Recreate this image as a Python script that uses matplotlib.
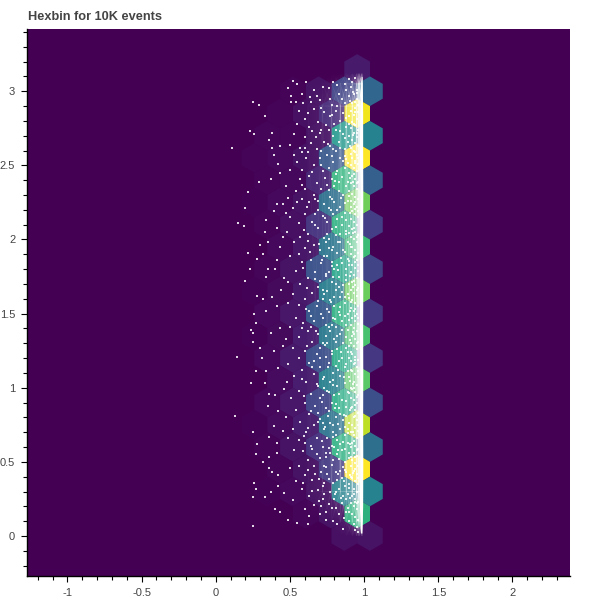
#!/usr/bin/env python3
# hexbin de 10K eventos: hexagonos viridis + puntos blancos encima
import matplotlib
matplotlib.use("Agg")
import matplotlib.pyplot as plt
import numpy as np
from matplotlib.collections import PolyCollection
from matplotlib.colors import LinearSegmentedColormap
from matplotlib.ticker import FixedLocator, FixedFormatter

HEX_SIZE = 0.1

# centros de hexagonos y cuentas (por fila)
hex_y = [3.15,
         3.0, 3.0, 3.0, 3.0,
         2.85, 2.85, 2.85, 2.85,
         2.7, 2.7, 2.7, 2.7, 2.7,
         2.55, 2.55, 2.55, 2.55, 2.55,
         2.4, 2.4, 2.4, 2.4, 2.4,
         2.25, 2.25, 2.25, 2.25, 2.25,
         2.1, 2.1, 2.1, 2.1, 2.1,
         1.95, 1.95, 1.95, 1.95,
         1.8, 1.8, 1.8, 1.8, 1.8,
         1.65, 1.65, 1.65, 1.65, 1.65,
         1.5, 1.5, 1.5, 1.5, 1.5,
         1.35, 1.35, 1.35, 1.35, 1.35,
         1.2, 1.2, 1.2, 1.2, 1.2,
         1.05, 1.05, 1.05, 1.05,
         0.9, 0.9, 0.9, 0.9, 0.9,
         0.75, 0.75, 0.75, 0.75, 0.75,
         0.6, 0.6, 0.6, 0.6, 0.6,
         0.45, 0.45, 0.45, 0.45,
         0.3, 0.3, 0.3, 0.3, 0.3,
         0.15, 0.15, 0.15,
         0.0, 0.0]
hex_x = [0.953,
         1.039, 0.866, 0.693, 0.52,
         0.953, 0.779, 0.606, 0.433,
         1.039, 0.866, 0.693, 0.52, 0.346,
         0.953, 0.779, 0.606, 0.433, 0.26,
         1.039, 0.866, 0.693, 0.52, 0.346,
         0.953, 0.779, 0.606, 0.433, 0.26,
         1.039, 0.866, 0.693, 0.52, 0.346,
         0.953, 0.779, 0.606, 0.433,
         1.039, 0.866, 0.693, 0.52, 0.346,
         0.953, 0.779, 0.606, 0.433, 0.26,
         1.039, 0.866, 0.693, 0.52, 0.346,
         0.953, 0.779, 0.606, 0.433, 0.26,
         1.039, 0.866, 0.693, 0.52, 0.346,
         0.953, 0.779, 0.606, 0.433,
         1.039, 0.866, 0.693, 0.52, 0.346,
         0.953, 0.779, 0.606, 0.433, 0.26,
         1.039, 0.866, 0.693, 0.52, 0.346,
         0.953, 0.779, 0.606, 0.433,
         1.039, 0.866, 0.693, 0.52, 0.346,
         0.953, 0.779, 0.606,
         1.039, 0.866]
hex_counts = [49,
              231, 140, 35, 7,
              686, 84, 28, 7,
              308, 371, 35, 10, 10,
              700, 189, 35, 14, 7,
              210, 455, 70, 14, 7,
              546, 252, 35, 14, 4,
              126, 441, 105, 28, 7,
              476, 273, 42, 14,
              140, 406, 175, 35, 10,
              539, 294, 49, 17, 4,
              119, 441, 189, 42, 14,
              497, 280, 56, 17, 4,
              112, 420, 168, 49, 14,
              518, 301, 56, 21,
              168, 427, 140, 42, 14,
              630, 266, 56, 21, 4,
              252, 441, 98, 35, 7,
              700, 119, 35, 10,
              308, 308, 35, 14, 4,
              448, 35, 10,
              35, 28]
hex_max = 700

# puntos sueltos a la izquierda
sparse_pts = [(0.25,2.93),(0.29,2.91),(0.33,2.83),(0.23,2.73),(0.26,2.71),(0.38,2.72),(0.36,2.67),(0.11,2.62),(0.38,2.62),(0.43,2.63),(0.5,2.64),(0.53,2.71),
    (0.49,3.02),(0.51,2.97),(0.51,2.93),(0.54,2.93),(0.29,2.39),(0.22,2.32),(0.2,2.21),(0.15,2.11),(0.19,2.09),(0.34,2.13),(0.33,2.05),(0.35,1.98),(0.3,1.96),
    (0.22,1.91),(0.28,1.87),(0.43,1.95),(0.32,1.9),(0.23,1.8),(0.35,1.8),(0.4,1.8),(0.2,1.72),(0.34,1.75),(0.28,1.62),(0.32,1.6),(0.26,1.5),(0.27,1.44),(0.34,1.52),
    (0.37,2.41),(0.42,2.51),(0.39,2.57),(0.43,2.45),(0.47,2.36),(0.41,2.24),(0.45,2.24),(0.39,2.19),(0.47,2.18),(0.41,2.08),(0.14,1.21),(0.25,1.37),(0.24,1.39),
    (0.25,1.31),(0.3,1.27),(0.31,1.2),(0.27,1.11),(0.24,1.03),(0.33,1.03),(0.13,0.81),(0.25,0.7),(0.28,0.62),(0.27,0.55),(0.26,0.36),(0.27,0.32),(0.25,0.26),
    (0.36,0.53),(0.32,0.5),(0.38,0.43),(0.42,0.41),(0.37,0.3),(0.43,0.16),(0.25,0.07),(0.42,0.34),(0.46,0.29),(0.4,0.18),(0.49,0.11),(0.55,0.09),(0.33,0.26),(0.36,0.46),(0.41,0.56),(0.36,0.96),(0.4,0.95),(0.35,0.88),(0.42,0.84),(0.46,0.99),(0.39,0.74),(0.36,0.67),(0.41,0.63),(0.45,0.71),(0.34,1.11),(0.42,1.13),(0.39,1.25),(0.45,1.28),(0.37,1.37),(0.43,1.4),(0.41,1.55),(0.38,1.61),(0.44,1.66),(0.46,1.74),(0.41,1.86),(0.45,2.02)]

# zona intermedia
mid_pts = [(0.52,3.07),(0.58,2.98),(0.61,3.06),(0.66,3.01),(0.7,2.94),(0.56,2.87),(0.6,2.81),(0.66,2.88),(0.69,2.79),(0.63,2.76),(0.55,2.78),(0.72,3.03),(0.73,2.86),
    (0.64,2.93),(0.55,3.05),(0.62,2.85),(0.7,2.72),(0.6,2.69),(0.57,2.62),(0.64,2.65),(0.68,2.61),(0.73,2.66),(0.53,2.57),(0.61,2.55),(0.66,2.5),(0.58,2.47),(0.7,2.55),
    (0.55,2.52),(0.63,2.43),(0.68,2.38),(0.72,2.46),(0.57,2.41),(0.5,2.47),(0.6,2.34),(0.66,2.3),(0.71,2.34),(0.54,2.33),(0.49,2.28),(0.63,2.25),(0.58,2.27),(0.69,2.2),
    (0.52,2.21),(0.6,2.17),(0.65,2.12),(0.72,2.16),(0.56,2.11),(0.5,2.15),(0.69,2.08),(0.62,2.04),(0.57,2.02),(0.73,2.01),(0.66,1.96),(0.53,1.98),(0.48,2.05),(0.6,1.94),
    (0.7,1.93),(0.56,1.9),(0.64,1.86),(0.5,1.89),(0.71,1.84),(0.59,1.81),(0.67,1.78),(0.54,1.79),(0.74,1.77),(0.62,1.74),(0.49,1.71),(0.57,1.7),(0.69,1.68),(0.65,1.64),
    (0.52,1.63),(0.6,1.6),(0.72,1.6),(0.56,1.56),(0.68,1.55),(0.49,1.57),(0.63,1.52),(0.71,1.5),(0.54,1.47),(0.59,1.44),(0.66,1.45),(0.74,1.42),(0.5,1.41),(0.62,1.38),
    (0.69,1.36),(0.56,1.34),(0.47,1.33),(0.65,1.31),(0.72,1.3),(0.52,1.27),(0.6,1.25),(0.68,1.23),(0.56,1.2),(0.74,1.21),(0.63,1.17),(0.49,1.16),(0.7,1.14),(0.58,1.12),
    (0.66,1.09),(0.53,1.08),(0.73,1.07),(0.61,1.04),(0.48,1.04),(0.69,1.01),(0.56,0.98),(0.64,0.96),(0.72,0.95),(0.51,0.93),(0.6,0.9),(0.67,0.88),(0.54,0.85),(0.74,0.86),
    (0.63,0.82),(0.47,0.8),(0.7,0.79),(0.57,0.77),(0.66,0.75),(0.52,0.72),(0.61,0.7),(0.73,0.72),(0.68,0.66),(0.56,0.65),(0.49,0.66),(0.64,0.61),(0.72,0.6),(0.59,0.57),
    (0.53,0.58),(0.68,0.55),(0.62,0.51),(0.74,0.53),(0.56,0.47),(0.66,0.47),(0.5,0.46),(0.71,0.43),(0.6,0.41),(0.65,0.38),(0.54,0.37),(0.73,0.36),(0.58,0.32),(0.69,0.31),
    (0.63,0.27),(0.52,0.24),(0.72,0.25),(0.66,0.21),(0.6,0.18),(0.7,0.15),(0.74,0.11),(0.62,0.08),(0.58,2.59),(0.65,2.73),(0.59,2.92),(0.68,2.97),(0.71,2.6),(0.55,2.25),
    (0.67,2.17),(0.62,1.99),(0.7,1.72),(0.64,1.41),(0.7,1.27),(0.58,1.06),(0.7,0.93),(0.62,0.73),(0.67,0.42),(0.73,0.47),(0.6,0.63),(0.69,0.83),(0.66,1.18),(0.61,1.53),
    (0.73,1.89),(0.67,2.27),(0.6,2.62),(0.71,2.74),(0.73,2.24),(0.74,1.98),(0.72,1.66),(0.74,1.35),(0.73,1.0),(0.72,0.76),(0.74,0.56),(0.72,0.34),(0.71,0.2)]

# zona densa junto a la franja
near_pts = [(0.76,3.02),(0.79,3.06),(0.83,2.98),(0.78,2.91),(0.81,2.87),(0.85,2.95),(0.77,2.83),(0.84,2.8),(0.8,2.78),(0.86,2.85),(0.76,2.74),(0.88,3.01),(0.82,3.04),
    (0.79,2.7),(0.83,2.66),(0.77,2.63),(0.86,2.71),(0.81,2.6),(0.75,2.57),(0.84,2.55),(0.79,2.52),(0.87,2.61),(0.76,2.48),(0.82,2.46),(0.85,2.42),(0.78,2.41),(0.8,2.36),
    (0.87,2.48),(0.75,2.37),(0.83,2.33),(0.77,2.29),(0.86,2.3),(0.8,2.25),(0.84,2.22),(0.76,2.21),(0.79,2.17),(0.87,2.18),(0.82,2.14),(0.75,2.12),(0.85,2.1),(0.78,2.07),
    (0.81,2.03),(0.88,2.06),(0.76,2.0),(0.84,1.98),(0.79,1.95),(0.82,1.91),(0.86,1.93),(0.75,1.89),(0.78,1.85),(0.85,1.84),(0.8,1.8),(0.88,1.8),(0.76,1.78),(0.83,1.75),
    (0.78,1.71),(0.86,1.69),(0.81,1.66),(0.75,1.65),(0.84,1.61),(0.77,1.59),(0.8,1.55),(0.87,1.57),(0.83,1.51),(0.76,1.51),(0.79,1.47),(0.85,1.45),(0.81,1.41),(0.88,1.42),
    (0.77,1.38),(0.84,1.36),(0.8,1.33),(0.75,1.3),(0.86,1.3),(0.82,1.26),(0.78,1.23),(0.85,1.2),(0.76,1.17),(0.81,1.15),(0.88,1.16),(0.79,1.1),(0.84,1.08),(0.77,1.04),
    (0.82,1.01),(0.87,1.03),(0.75,0.98),(0.8,0.95),(0.85,0.92),(0.78,0.9),(0.83,0.86),(0.76,0.84),(0.88,0.87),(0.81,0.8),(0.86,0.78),(0.77,0.76),(0.84,0.72),(0.79,0.7),
    (0.75,0.66),(0.82,0.65),(0.87,0.68),(0.8,0.6),(0.85,0.58),(0.77,0.56),(0.83,0.52),(0.78,0.48),(0.87,0.5),(0.81,0.43),(0.75,0.42),(0.85,0.39),(0.79,0.36),(0.83,0.32),
    (0.77,0.3),(0.87,0.34),(0.8,0.25),(0.85,0.22),(0.78,0.19),(0.83,0.15),(0.88,0.16),(0.82,0.08),(0.86,0.05),(0.77,2.95),(0.82,2.9),(0.84,2.73),(0.79,2.61),(0.81,2.44),
    (0.83,2.39),(0.78,2.27),(0.82,2.2),(0.84,2.04),(0.78,1.93),(0.82,1.83),(0.79,1.75),(0.83,1.68),(0.8,1.61),(0.84,1.49),(0.78,1.42),(0.82,1.35),(0.83,1.18),(0.79,1.02),
    (0.81,0.89),(0.84,0.82),(0.79,0.75),(0.81,0.68),(0.84,0.62),(0.78,0.61),(0.82,0.55),(0.84,0.44),(0.82,0.38),(0.86,0.27),(0.81,0.3),(0.87,2.92),(0.88,2.76),(0.89,2.66),
    (0.88,2.54),(0.89,2.39),(0.89,2.26),(0.88,2.13),(0.89,1.98),(0.89,1.87),(0.88,1.73),(0.89,1.63),(0.89,1.5),(0.88,1.34),(0.89,1.24),(0.89,1.11),(0.89,0.97),(0.88,0.81),
    (0.89,0.72),(0.89,0.63),(0.88,0.43),(0.89,0.28),(0.89,0.19),(0.9,0.1),(0.9,2.97),(0.9,2.83),(0.9,2.7),(0.91,2.58),(0.9,2.45),(0.9,2.33),(0.91,2.22),(0.9,2.09),
    (0.91,1.95),(0.9,1.83),(0.9,1.7),(0.91,1.54),(0.9,1.46),(0.9,1.28),(0.91,1.18),(0.9,1.07),(0.91,0.93),(0.9,0.76),(0.9,0.56),(0.91,0.47),(0.9,0.35)]

# zona casi saturada, x entre 0.90 y 0.96
dense_pts = [(0.92,3.06),(0.94,3.09),(0.95,3.01),(0.93,2.98),(0.91,3.03),(0.95,2.95),(0.92,2.92),(0.94,2.89),(0.96,2.86),(0.91,2.87),(0.93,2.84),(0.95,2.81),(0.92,2.79),(0.94,2.77),
    (0.96,2.74),(0.91,2.75),(0.93,2.72),(0.95,2.69),(0.92,2.67),(0.94,2.65),(0.96,2.63),(0.93,2.6),(0.91,2.62),(0.95,2.57),(0.92,2.55),(0.94,2.53),(0.96,2.51),(0.91,2.5),(0.93,2.48),(0.95,2.46),
    (0.92,2.43),(0.94,2.41),(0.96,2.39),(0.91,2.38),(0.93,2.36),(0.95,2.34),(0.92,2.31),(0.94,2.29),(0.96,2.27),(0.91,2.26),(0.93,2.24),(0.95,2.22),(0.92,2.19),(0.94,2.17),(0.96,2.15),(0.91,2.14),
    (0.93,2.12),(0.95,2.1),(0.92,2.07),(0.94,2.05),(0.96,2.03),(0.91,2.02),(0.93,2.0),(0.95,1.98),(0.92,1.95),(0.94,1.93),(0.96,1.91),(0.91,1.9),(0.93,1.88),(0.95,1.86),(0.92,1.83),(0.94,1.81),
    (0.96,1.79),(0.91,1.78),(0.93,1.76),(0.95,1.74),(0.92,1.71),(0.94,1.69),(0.96,1.67),(0.91,1.66),(0.93,1.64),(0.95,1.62),(0.92,1.59),(0.94,1.57),(0.96,1.55),(0.91,1.58),(0.93,1.52),(0.95,1.5),
    (0.92,1.47),(0.94,1.45),(0.96,1.43),(0.91,1.42),(0.93,1.4),(0.95,1.38),(0.92,1.35),(0.94,1.33),(0.96,1.31),(0.91,1.3),(0.93,1.28),(0.95,1.26),(0.92,1.23),(0.94,1.21),(0.96,1.19),(0.91,1.24),
    (0.93,1.16),(0.95,1.14),(0.92,1.11),(0.94,1.09),(0.96,1.07),(0.91,1.12),(0.93,1.04),(0.95,1.02),(0.92,0.99),(0.94,0.97),(0.96,0.95),(0.91,1.0),(0.93,0.92),(0.95,0.9),(0.92,0.87),(0.94,0.85),
    (0.96,0.83),(0.91,0.86),(0.93,0.8),(0.95,0.78),(0.92,0.75),(0.94,0.73),(0.96,0.71),(0.91,0.7),(0.93,0.68),(0.95,0.66),(0.92,0.63),(0.94,0.61),(0.96,0.59),(0.91,0.6),(0.93,0.56),(0.95,0.54),
    (0.92,0.51),(0.94,0.49),(0.96,0.47),(0.91,0.53),(0.93,0.44),(0.95,0.42),(0.92,0.39),(0.94,0.37),(0.96,0.35),(0.91,0.4),(0.93,0.32),(0.95,0.3),(0.92,0.27),(0.94,0.25),(0.96,0.23),(0.91,0.22),
    (0.93,0.2),(0.95,0.18),(0.92,0.15),(0.94,0.13),(0.96,0.11),(0.93,0.08),(0.95,0.06),(0.94,0.04),(0.96,0.03),(0.95,2.99),(0.94,2.93),(0.96,2.91),(0.93,2.78),(0.95,2.72),(0.94,2.59),(0.96,2.55),
    (0.93,2.44),(0.95,2.38),(0.94,2.25),(0.96,2.19),(0.93,2.08),(0.95,2.02),(0.94,1.89),(0.96,1.83),(0.93,1.72),(0.95,1.66),(0.94,1.53),(0.96,1.47),(0.93,1.36),(0.95,1.3),(0.94,1.17),(0.96,1.11),
    (0.93,1.0),(0.95,0.94),(0.94,0.81),(0.96,0.75),(0.93,0.64),(0.95,0.58),(0.94,0.45),(0.96,0.39),(0.93,0.28),(0.95,0.22)]

# puntos anadidos en la zona media y densa
extra_pts = [(0.637,2.962),(0.712,2.887),(0.783,2.843),(0.744,2.771),(0.812,2.738),(0.677,2.692),(0.756,2.644),(0.838,2.617),(0.621,2.587),(0.783,2.566),(0.706,2.503),(0.857,2.527),
    (0.648,2.452),(0.735,2.417),(0.806,2.392),(0.584,2.367),(0.763,2.332),(0.845,2.278),(0.692,2.263),(0.618,2.221),(0.779,2.198),(0.734,2.143),(0.853,2.152),(0.668,2.098),(0.807,2.083),
    (0.592,2.063),(0.753,2.038),(0.826,1.986),(0.694,1.972),(0.764,1.941),(0.634,1.917),(0.847,1.878),(0.718,1.861),(0.783,1.822),(0.583,1.846),(0.826,1.793),(0.746,1.752),(0.669,1.732),
    (0.807,1.702),(0.854,1.647),(0.729,1.634),(0.612,1.671),(0.778,1.578),(0.688,1.586),(0.834,1.543),(0.751,1.533),(0.643,1.487),(0.806,1.462),(0.722,1.468),(0.583,1.404),(0.766,1.408),
    (0.853,1.388),(0.678,1.386),(0.812,1.307),(0.739,1.286),(0.616,1.283),(0.782,1.248),(0.844,1.238),(0.703,1.198),(0.759,1.139),(0.826,1.122),(0.647,1.138),(0.867,1.073),(0.726,1.057),
    (0.793,1.052),(0.684,1.028),(0.763,0.973),(0.833,0.958),(0.596,0.942),(0.717,0.901),(0.806,0.861),(0.642,0.846),(0.754,0.812),(0.862,0.817),(0.689,0.768),(0.823,0.757),(0.736,0.732),
    (0.592,0.676),(0.788,0.667),(0.856,0.636),(0.713,0.638),(0.649,0.584),(0.763,0.594),(0.826,0.582),(0.701,0.523),(0.858,0.463),(0.792,0.512),(0.743,0.467),(0.622,0.442),(0.824,0.418),
    (0.693,0.386),(0.766,0.384),(0.863,0.372),(0.588,0.358),(0.732,0.286),(0.804,0.282),(0.647,0.303),(0.847,0.254),(0.693,0.238),(0.764,0.218),(0.812,0.188),(0.626,0.134),(0.743,0.163),
    (0.866,0.118),(0.787,0.102),(0.876,0.247),(0.873,0.442),(0.871,0.588),(0.874,0.733),(0.877,0.908),(0.872,1.142),(0.876,1.267),(0.873,1.483),(0.871,1.612),(0.878,1.763),(0.874,1.917),
    (0.876,2.034),(0.872,2.243),(0.877,2.364),(0.873,2.563),(0.871,2.683),(0.876,2.819),(0.874,3.047),(0.897,3.083),(0.904,2.936),(0.896,2.778),(0.907,2.631),(0.894,2.517),(0.906,2.413),
    (0.898,2.294),(0.903,2.176),(0.895,2.042),(0.907,1.973),(0.897,1.852),(0.904,1.756),(0.896,1.603),(0.906,1.518),(0.894,1.389),(0.903,1.322),(0.898,1.203),(0.906,1.046),(0.896,0.963),
    (0.904,0.847),(0.894,0.692),(0.907,0.618),(0.897,0.523),(0.903,0.408),(0.895,0.323),(0.906,0.256),(0.898,0.164),(0.926,2.996),(0.937,2.857),(0.927,2.704),(0.938,2.516),(0.926,2.387),
    (0.937,2.208),(0.928,2.043),(0.936,1.847),(0.926,1.678),(0.938,1.483),(0.927,1.376),(0.936,1.187),(0.928,1.024),(0.937,0.884),(0.926,0.702),(0.938,0.533),(0.927,0.424),(0.936,0.226)]

# velo blanco donde los puntos casi se funden (nodos x, nodos y, cobertura 0-1)
haze_x = [0.62, 0.72, 0.78, 0.84, 0.88, 0.92, 0.95, 0.965, 0.985, 0.992]
haze_y = [0.0, 0.1, 0.3, 2.9, 3.05, 3.12]
haze_cover = [[0.0, 0.0, 0.0, 0.0, 0.0, 0.0, 0.0, 0.0, 0.0, 0.0],
              [0.0, 0.0, 0.01, 0.03, 0.06, 0.14, 0.26, 0.4, 0.4, 0.0],
              [0.02, 0.05, 0.09, 0.17, 0.24, 0.34, 0.45, 0.7, 0.7, 0.0],
              [0.02, 0.05, 0.09, 0.17, 0.24, 0.34, 0.45, 0.7, 0.7, 0.0],
              [0.0, 0.01, 0.03, 0.05, 0.1, 0.16, 0.24, 0.55, 0.55, 0.0],
              [0.0, 0.0, 0.0, 0.0, 0.0, 0.0, 0.0, 0.0, 0.0, 0.0]]

# franja central donde los puntos se funden (y, borde izq, borde der)
core_y = [0.02, 0.2, 0.5, 0.8, 1.1, 1.4, 1.7, 2.0, 2.3, 2.6, 2.85, 3.0, 3.1]
core_left = [0.975, 0.968, 0.97, 0.968, 0.971, 0.968, 0.97, 0.969, 0.971, 0.968, 0.97, 0.974, 0.98]
core_right = [0.985, 0.99, 0.991, 0.99, 0.991, 0.99, 0.991, 0.99, 0.991, 0.99, 0.99, 0.988, 0.986]

x_ticks = [-1, -0.5, 0, 0.5, 1, 1.5, 2]
x_labels = ["-1", "-0.5", "0", "0.5", "1", "1.5", "2"]
y_ticks = [0, 0.5, 1, 1.5, 2, 2.5, 3]
y_labels = ["0", "0.5", "1", "1.5", "2", "2.5", "3"]

plt.rcParams["font.family"] = ["Liberation Sans", "DejaVu Sans"]
fig = plt.figure(figsize=(6, 6), dpi=100)
ax = fig.add_axes([27 / 600, 24 / 600, 543 / 600, 547 / 600])
ax.set_facecolor("#440154")

# hexagonos con punta arriba
angles = np.deg2rad([90, 150, 210, 270, 330, 30])
verts = [np.column_stack([x + HEX_SIZE * np.cos(angles), y + HEX_SIZE * np.sin(angles)])
         for x, y in zip(hex_x, hex_y)]
hexes = PolyCollection(verts, array=np.array(hex_counts), cmap="viridis",
                       edgecolors="none", zorder=2)
hexes.set_clim(0, hex_max)
ax.add_collection(hexes)

# velo y franja
white_fade = LinearSegmentedColormap.from_list("white_fade", [(1, 1, 1, 0), (1, 1, 1, 1)])
ax.pcolormesh(haze_x, haze_y, np.array(haze_cover), shading="gouraud", cmap=white_fade,
              vmin=0, vmax=1, zorder=3)
ax.fill_betweenx(core_y, core_left, core_right, color="white", lw=0, zorder=3)

# puntos
pts = np.array(sparse_pts + mid_pts + near_pts + dense_pts + extra_pts)
ax.scatter(pts[:, 0], pts[:, 1], s=1.0, marker="s", c="white", linewidths=0, alpha=0.85, zorder=4)

ax.set_xlim(-1.273, 2.388)
ax.set_ylim(-0.27, 3.42)

for s in ("top", "right"):
    ax.spines[s].set_visible(False)
for s in ("left", "bottom"):
    ax.spines[s].set_linewidth(1.0)
    ax.spines[s].set_color("black")

ax.xaxis.set_major_locator(FixedLocator(x_ticks))
ax.xaxis.set_major_formatter(FixedFormatter(x_labels))
ax.yaxis.set_major_locator(FixedLocator(y_ticks))
ax.yaxis.set_major_formatter(FixedFormatter(y_labels))
ax.set_xticks(np.arange(-12, 24) / 10, minor=True)
ax.set_yticks(np.arange(-2, 35) / 10, minor=True)
ax.tick_params(which="major", length=4.5, width=0.8, color="black", labelsize=8,
               labelcolor="#444444", pad=4)
ax.tick_params(which="minor", length=3, width=0.8, color="black")

fig.text(28 / 600, 1 - 17 / 600, "Hexbin for 10K events", fontsize=9.2, fontweight="bold",
         color="#444444", ha="left", va="center")

fig.savefig("out.png", dpi=100)
